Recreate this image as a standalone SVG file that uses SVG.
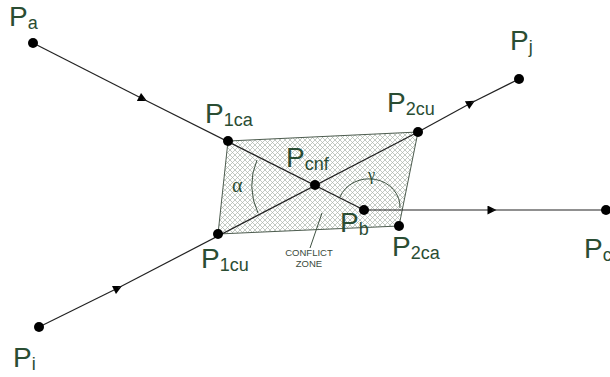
<svg xmlns="http://www.w3.org/2000/svg" width="610" height="377" viewBox="0 0 610 377">
<defs>
<pattern id="hatch" patternUnits="userSpaceOnUse" width="5" height="5">
<path d="M0 0 L5 5 M5 0 L0 5 M-1 4 L1 6 M4 -1 L6 1 M4 6 L6 4 M-1 1 L1 -1" stroke="#a9b3a9" stroke-width="0.7" fill="none"/>
</pattern>
<marker id="arr" viewBox="0 0 10 10" refX="5" refY="5" markerWidth="10" markerHeight="9" markerUnits="userSpaceOnUse" orient="auto">
<path d="M0 0 L10 5 L0 10 Z" fill="#000"/>
</marker>
<style>
.ln{stroke:#222;stroke-width:1.2;fill:none}
.dot{fill:#000}
.lbl{font-family:"Liberation Sans",Arial,sans-serif;fill:#2a4d33;font-size:28px}
.sub{font-size:18px}
.small{font-family:"Liberation Sans",Arial,sans-serif;fill:#3a4a3c;font-size:9.5px;text-anchor:middle}
.greek{font-family:"Liberation Serif","Times New Roman",serif;fill:#2a4d33}
.arc{stroke:#3f5242;stroke-width:1;fill:none}
</style>
</defs>
<rect width="610" height="377" fill="#fff"/>
<g id="zone">
<polygon points="228,141 418,132 399,226 218,234" fill="url(#hatch)" stroke="#4d5c4f" stroke-width="1"/>
</g>
<g id="connectors">
<line class="ln" x1="33" y1="43" x2="143" y2="99" marker-end="url(#arr)"/>
<line class="ln" x1="143" y1="99" x2="364" y2="210"/>
<line class="ln" x1="39" y1="327" x2="118" y2="288" marker-end="url(#arr)"/>
<line class="ln" x1="118" y1="288" x2="418" y2="132"/>
<line class="ln" x1="418" y1="132" x2="471" y2="103" marker-end="url(#arr)"/>
<line class="ln" x1="471" y1="103" x2="519" y2="79"/>
<line class="ln" x1="364" y1="210" x2="492" y2="210" marker-end="url(#arr)"/>
<line class="ln" x1="492" y1="210" x2="606" y2="210"/>
<path class="arc" d="M257 160 A64 64 0 0 0 258 213"/>
<path class="arc" d="M340 197 A31 28 0 0 1 400 208"/>
<line class="arc" x1="310" y1="248" x2="322" y2="213"/>
</g>
<g id="Pa"><circle class="dot" cx="33" cy="43" r="5"/><text class="lbl" x="9" y="26">P<tspan class="sub" dy="3">a</tspan></text></g>
<g id="P1ca"><circle class="dot" cx="228" cy="141" r="5"/><text class="lbl" x="205" y="123">P<tspan class="sub" dy="3">1ca</tspan></text></g>
<g id="P2cu"><circle class="dot" cx="418" cy="132" r="5"/><text class="lbl" x="387" y="112">P<tspan class="sub" dy="3">2cu</tspan></text></g>
<g id="Pcnf"><circle class="dot" cx="315" cy="185" r="5"/><text class="lbl" x="286" y="167">P<tspan class="sub" dy="3">cnf</tspan></text></g>
<g id="Pb"><circle class="dot" cx="364" cy="210" r="5"/><text class="lbl" x="340" y="232">P<tspan class="sub" dy="3">b</tspan></text></g>
<g id="P2ca"><circle class="dot" cx="399" cy="226" r="5"/><text class="lbl" x="392" y="256">P<tspan class="sub" dy="3">2ca</tspan></text></g>
<g id="P1cu"><circle class="dot" cx="218" cy="234" r="5"/><text class="lbl" x="201" y="268">P<tspan class="sub" dy="3">1cu</tspan></text></g>
<g id="Pj"><circle class="dot" cx="519" cy="79" r="5"/><text class="lbl" x="510" y="50">P<tspan class="sub" dy="3">j</tspan></text></g>
<g id="Pc"><circle class="dot" cx="606" cy="210" r="5"/><text class="lbl" x="584" y="258">P<tspan class="sub" dy="3">c</tspan></text></g>
<g id="Pi"><circle class="dot" cx="39" cy="327" r="5"/><text class="lbl" x="13" y="367">P<tspan class="sub" dy="3">i</tspan></text></g>
<g id="labels">
<text class="greek" x="232" y="192" font-size="20">α</text>
<text class="greek" x="368" y="180" font-size="16">γ</text>
<text class="small" x="309" y="256">CONFLICT</text>
<text class="small" x="309" y="267">ZONE</text>
</g>
</svg>
